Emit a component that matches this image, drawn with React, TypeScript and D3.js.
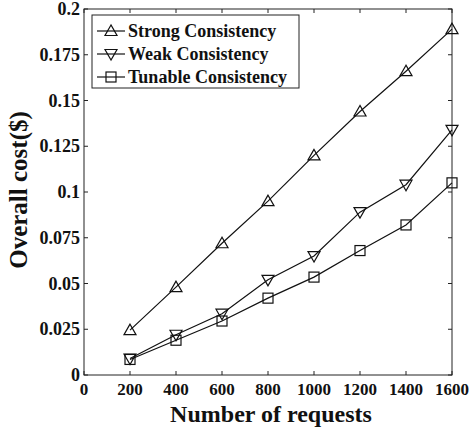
import React from "react";
import * as d3 from "d3";

const requests = [200, 400, 600, 800, 1000, 1200, 1400, 1600];
const strong = [0.0245, 0.048, 0.072, 0.095, 0.12, 0.144, 0.166, 0.189];
const weak = [0.009, 0.022, 0.0335, 0.052, 0.065, 0.089, 0.104, 0.134];
const tunable = [0.0085, 0.019, 0.0295, 0.042, 0.0535, 0.068, 0.082, 0.105];
const seriesNames = ["Strong Consistency", "Weak Consistency", "Tunable Consistency"];
const xTicks = [0, 200, 400, 600, 800, 1000, 1200, 1400, 1600];
const yTicks = [0, 0.025, 0.05, 0.075, 0.1, 0.125, 0.15, 0.175, 0.2];
const yTickLabels = ["0", "0.025", "0.05", "0.075", "0.1", "0.125", "0.15", "0.175", "0.2"];

const W = 472, H = 431;
const L = 84, R = 452, T = 9, B = 375;
const FONT = "'Liberation Serif', 'Times New Roman', serif";

type Shape = "up" | "down" | "square";

function Marker({ x, y, shape }: { x: number; y: number; shape: Shape }) {
  const s = 6;
  if (shape === "square") {
    return <rect x={x - 5} y={y - 5} width={10} height={10} fill="none" stroke="#111" strokeWidth={1.2} />;
  }
  const pts =
    shape === "up"
      ? [[x, y - s], [x - s, y + s * 0.75], [x + s, y + s * 0.75]]
      : [[x, y + s], [x - s, y - s * 0.75], [x + s, y - s * 0.75]];
  return <polygon points={pts.map((p) => p.join(",")).join(" ")} fill="none" stroke="#111" strokeWidth={1.2} />;
}

export default function App() {
  const x = d3.scaleLinear().domain([0, 1600]).range([L, R]);
  const y = d3.scaleLinear().domain([0, 0.2]).range([B, T]);
  const series: { vals: number[]; shape: Shape }[] = [
    { vals: strong, shape: "up" },
    { vals: weak, shape: "down" },
    { vals: tunable, shape: "square" },
  ];
  const line = d3
    .line<number>()
    .x((_, i) => x(requests[i]))
    .y((d) => y(d));
  const tl = 4;
  const legendRows = [31, 54, 77];
  return (
    <svg width={W} height={H} style={{ position: "absolute", left: 0, top: 0, background: "#fff" }} fontFamily={FONT}>
      <rect x={0} y={0} width={W} height={H} fill="#fff" />
      {/* ticks */}
      {xTicks.map((t) => (
        <g key={"xt" + t}>
          <line x1={x(t)} x2={x(t)} y1={B} y2={B - tl} stroke="#222" />
          <line x1={x(t)} x2={x(t)} y1={T} y2={T + tl} stroke="#222" />
          <text x={x(t)} y={395} textAnchor="middle" fontSize={17} fontWeight="bold" fill="#111">
            {t}
          </text>
        </g>
      ))}
      {yTicks.map((t, i) => (
        <g key={"yt" + t}>
          <line x1={L} x2={L + tl} y1={y(t)} y2={y(t)} stroke="#222" />
          <line x1={R} x2={R - tl} y1={y(t)} y2={y(t)} stroke="#222" />
          <text x={80} y={y(t) + 6} textAnchor="end" fontSize={18} fontWeight="bold" fill="#111">
            {yTickLabels[i]}
          </text>
        </g>
      ))}
      <rect x={L} y={T} width={R - L} height={B - T} fill="none" stroke="#222" strokeWidth={1} />
      {/* series */}
      {series.map((s, si) => (
        <g key={"s" + si}>
          <path d={line(s.vals) || ""} fill="none" stroke="#111" strokeWidth={1.2} />
          {s.vals.map((v, i) => (
            <Marker key={i} x={x(requests[i])} y={y(v)} shape={s.shape} />
          ))}
        </g>
      ))}
      {/* legend */}
      <rect x={92} y={15} width={207} height={73} fill="#fff" stroke="#222" strokeWidth={1} />
      {series.map((s, si) => (
        <g key={"l" + si}>
          <line x1={97} x2={125} y1={legendRows[si]} y2={legendRows[si]} stroke="#111" strokeWidth={1.2} />
          <Marker x={111} y={legendRows[si]} shape={s.shape} />
          <text x={128} y={legendRows[si] + 6} fontSize={18} fontWeight="bold" fill="#111">
            {seriesNames[si]}
          </text>
        </g>
      ))}
      {/* axis titles */}
      <text x={(L + R) / 2 + 3} y={422} textAnchor="middle" fontSize={24} fontWeight="bold" fill="#111">
        Number of requests
      </text>
      <text
        transform={`translate(27,${190}) rotate(-90)`}
        textAnchor="middle"
        fontSize={25}
        fontWeight="bold"
        fill="#111"
      >
        Overall cost($)
      </text>
    </svg>
  );
}
